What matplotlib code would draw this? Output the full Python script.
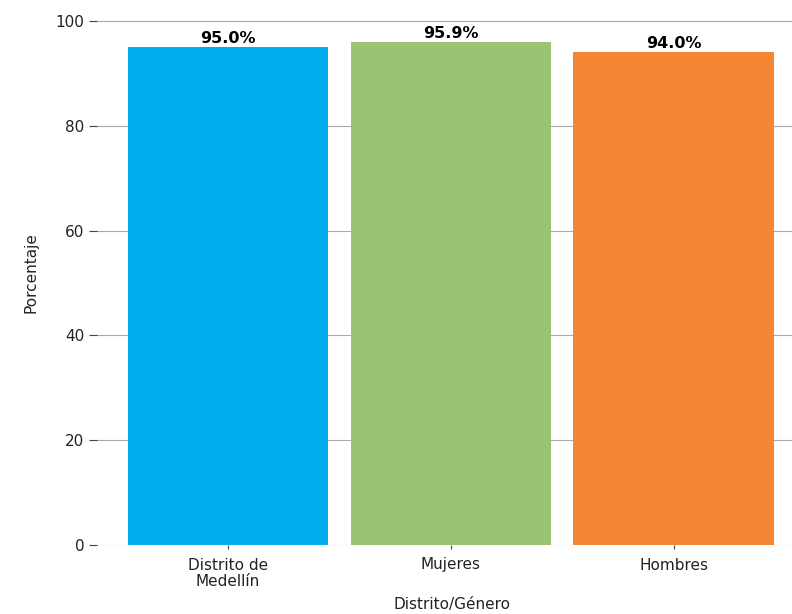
import matplotlib
matplotlib.use("Agg")
import matplotlib.pyplot as plt

categorias = ["Distrito de\nMedellín", "Mujeres", "Hombres"]
porcentajes = [95.0, 95.9, 94.0]
etiquetas = ["95.0%", "95.9%", "94.0%"]
colores = ["#00AEEF", "#9BC472", "#F58634"]
yticks = [0, 20, 40, 60, 80, 100]

plt.rcParams['font.family'] = ['DejaVu Sans']

fig = plt.figure(figsize=(7.92, 6.14), dpi=100)
ax = fig.add_axes([97 / 792, 69 / 614, 1 - 97 / 792, 1 - 69 / 614])

x = list(range(len(categorias)))
ax.bar(x, porcentajes, width=0.9, color=colores, zorder=2)
for xi, v, lab in zip(x, porcentajes, etiquetas):
    ax.text(xi, v + 0.2, lab, ha='center', va='bottom', fontsize=11.5,
            fontweight='heavy', color='black')

ax.set_xlim(-0.587, 2.53)
ax.set_ylim(0, 104)
ax.set_yticks(yticks)
ax.set_xticks(x)
ax.set_xticklabels(categorias, fontsize=11, color='#222222', linespacing=1.15)
ax.tick_params(axis='y', labelsize=11, labelcolor='#222222', length=6,
               color='#444444', width=0.8, pad=3)
ax.tick_params(axis='x', length=3, color='#444444', width=0.8, pad=6)
ax.yaxis.grid(True, color='#AAAAAA', linewidth=0.8, zorder=0)
ax.set_axisbelow(True)
for s in ax.spines.values():
    s.set_visible(False)

ax.set_ylabel("Porcentaje", fontsize=11, color='#222222', labelpad=12)
fig.text(452 / 792, 1 - 605 / 614, "Distrito/Género", ha='center', va='center',
         fontsize=11, color='#222222')

fig.savefig("out.png", dpi=100)
